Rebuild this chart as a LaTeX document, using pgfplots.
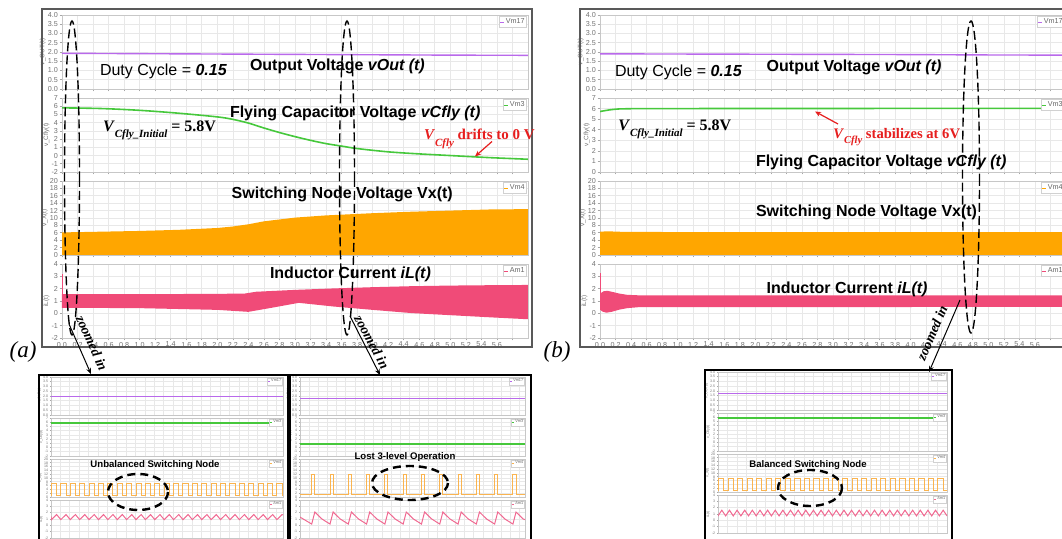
\documentclass[border=0pt]{standalone}
\usepackage{pgfplots}
\pgfplotsset{compat=1.18}
\usepackage{pgfplotstable}
\usepackage{fontspec}
\setmainfont{Liberation Sans}
\newfontfamily\tnr{Liberation Serif}
\usetikzlibrary{arrows.meta}

\definecolor{cvout}{RGB}{185,105,235}
\definecolor{ccfly}{RGB}{70,200,60}
\definecolor{cvx}{RGB}{255,166,0}
\definecolor{cvxl}{RGB}{250,180,80}
\definecolor{cil}{RGB}{240,75,120}
\definecolor{cill}{RGB}{240,105,145}
\definecolor{cred}{RGB}{230,30,30}

\pgfplotstableread{
x y
0 1
0.05 7
0.6 1
1.05 7
1.6 1
2.05 7
2.6 1
3.05 7
3.6 1
4.05 7
4.6 1
5.05 7
5.6 1
6.05 7
6.6 1
7.05 7
7.6 1
8.05 7
8.6 1
9.05 7
9.6 1
10.05 7
10.6 1
11.05 7
11.6 1
12.05 7
12.6 1
13.05 7
13.6 1
14.05 7
14.6 1
15.05 7
15.6 1
16.05 7
16.6 1
17.05 7
17.6 1
18.05 7
18.6 1
19.05 7
19.6 1
20.05 7
20.6 1
21.05 7
21.6 1
22.05 7
22.6 1
23.05 7
23.6 1
24.05 7
24.6 1
25 1
}\pulseA

\pgfplotstableread{
x y
0 1.4
0.05 0.9
0.6 1.7
1.05 0.9
1.6 1.7
2.05 0.9
2.6 1.7
3.05 0.9
3.6 1.7
4.05 0.9
4.6 1.7
5.05 0.9
5.6 1.7
6.05 0.9
6.6 1.7
7.05 0.9
7.6 1.7
8.05 0.9
8.6 1.7
9.05 0.9
9.6 1.7
10.05 0.9
10.6 1.7
11.05 0.9
11.6 1.7
12.05 0.9
12.6 1.7
13.05 0.9
13.6 1.7
14.05 0.9
14.6 1.7
15.05 0.9
15.6 1.7
16.05 0.9
16.6 1.7
17.05 0.9
17.6 1.7
18.05 0.9
18.6 1.7
19.05 0.9
19.6 1.7
20.05 0.9
20.6 1.7
21.05 0.9
21.6 1.7
22.05 0.9
22.6 1.7
23.05 0.9
23.6 1.7
24.05 0.9
24.6 1.7
25 1.5
}\triA

\pgfplotstableread{
x y
0 1.5
0.64 12
0.81 1.5
1.64 12
1.81 1.5
2.64 12
2.81 1.5
3.64 12
3.81 1.5
4.64 12
4.81 1.5
5.64 12
5.81 1.5
6.64 12
6.81 1.5
7.64 12
7.81 1.5
8.64 12
8.81 1.5
9.64 12
9.81 1.5
10.64 12
10.81 1.5
11.64 12
11.81 1.5
12.3 1.5
}\pulseB

\pgfplotstableread{
x y
0 1.3
0.64 0.2
0.81 2.1
1.2 1.0
1.64 0.2
1.81 2.1
2.2 1.0
2.64 0.2
2.81 2.1
3.2 1.0
3.64 0.2
3.81 2.1
4.2 1.0
4.64 0.2
4.81 2.1
5.2 1.0
5.64 0.2
5.81 2.1
6.2 1.0
6.64 0.2
6.81 2.1
7.2 1.0
7.64 0.2
7.81 2.1
8.2 1.0
8.64 0.2
8.81 2.1
9.2 1.0
9.64 0.2
9.81 2.1
10.2 1.0
10.64 0.2
10.81 2.1
11.2 1.0
11.64 0.2
11.81 2.1
12.2 1.0
12.3 0.9
}\sawB

\pgfplotstableread{
x y
0 0.7
0.4 1.6
0.8 0.7
1.2 1.6
1.6 0.7
2.0 1.6
2.4 0.7
2.8 1.6
3.2 0.7
3.6 1.6
4.0 0.7
4.4 1.6
4.8 0.7
5.2 1.6
5.6 0.7
6.0 1.6
6.4 0.7
6.8 1.6
7.2 0.7
7.6 1.6
8.0 0.7
8.4 1.6
8.8 0.7
9.2 1.6
9.6 0.7
10.0 1.6
10.4 0.7
10.8 1.6
11.2 0.7
11.6 1.6
12.0 0.7
12.4 1.6
12.8 0.7
13.2 1.6
13.6 0.7
14.0 1.6
14.4 0.7
14.8 1.6
15.2 0.7
15.6 1.6
16.0 0.7
16.4 1.6
16.8 0.7
17.2 1.6
17.6 0.7
18.0 1.6
18.4 0.7
18.8 1.6
19.2 0.7
19.6 1.6
20.0 0.7
20.4 1.6
20.8 0.7
21.2 1.6
21.6 0.7
22.0 1.6
22.4 0.7
22.8 1.6
23.2 0.7
23.6 1.6
24.0 0.7
}\triC

\pgfplotsset{
  base/.style={
    scale only axis, clip=true,
    axis line style={draw=black!22, line width=0.4pt},
    grid=major,
    major grid style={draw=black!9, line width=0.3pt},
    tick style={draw=black!35, line width=0.3pt},
    tick align=outside, tick pos=left,
    major tick length=1.2pt,
    /pgf/number format/assume math mode=true,
    ticklabel style={font=\fontsize{3.6}{4}\selectfont, text=black!55, inner sep=0.6pt},
    ylabel style={font=\fontsize{3.2}{3.5}\selectfont, text=black!55, inner sep=0.3pt},
    legend style={at={(0.996,0.975)}, anchor=north east, font=\fontsize{3.6}{3.6}\selectfont, text=black!60, draw=black!18, fill=white, inner sep=0.3pt, outer sep=0pt, nodes={inner sep=0.4pt}, column sep=0pt},
    legend image code/.code={\draw[#1, line width=0.7pt] (0pt,0pt) -- (2pt,0pt);},
  },
  mainx/.style={base, width=233pt, height=37pt, xmin=0, xmax=6,
    xtick={0,0.2,0.4,0.6,0.8,1.0,1.2,1.4,1.6,1.8,2.0,2.2,2.4,2.6,2.8,3.0,3.2,3.4,3.6,3.8,4.0,4.2,4.4,4.6,4.8,5.0,5.2,5.4,5.6,5.8},
    xticklabels={}},
  botx/.style={xticklabels={0.0,0.2,0.4,0.6,0.8,1.0,1.2,1.4,1.6,1.8,2.0,2.2,2.4,2.6,2.8,3.0,3.2,3.4,3.6,3.8,4.0,4.2,4.4,4.6,4.8,5.0,5.2,5.4,5.6,{}}},
  svout/.style={ymin=0, ymax=4, ytick={0,0.5,1,1.5,2,2.5,3,3.5,4},
    yticklabel style={/pgf/number format/.cd, fixed, fixed zerofill, precision=1}, ylabel={v\_OUT(t)}},
  svx/.style={ymin=0, ymax=20, ytick={0,2,4,6,8,10,12,14,16,18,20}, ylabel={v\_X(t)}},
  sil/.style={ymin=-2, ymax=4, ytick={-2,-1,0,1,2,3,4}, ylabel={iL(t)}},
  ins/.style={base, height=19pt, xmin=0, xtick distance=1, xticklabels={},
    ticklabel style={font=\fontsize{1.8}{2}\selectfont},
    ylabel style={font=\fontsize{1.8}{2}\selectfont},
    major tick length=0.6pt,
    legend style={font=\fontsize{1.9}{1.9}\selectfont, inner sep=0.2pt, nodes={inner sep=0.25pt}},
    legend image code/.code={\draw[#1, line width=0.5pt] (0pt,0pt) -- (1.2pt,0pt);}},
}

\begin{document}
\begin{tikzpicture}
\useasboundingbox (0pt,0pt) rectangle (531pt,-269.5pt);
\clip (0pt,0pt) rectangle (531pt,-269.5pt);

% ================= Panel (a) =================
\begin{axis}[mainx, svout, at={(31pt,-7.5pt)}, anchor=north west]
\addplot[cvout, line width=0.7pt] coordinates {(0,1.93)(1,1.91)(2,1.89)(3,1.87)(4,1.85)(5,1.83)(6,1.82)};
\addlegendentry{Vm17}
\end{axis}

\begin{axis}[mainx, at={(31pt,-49pt)}, anchor=north west, ymin=-2, ymax=7, ytick={-2,-1,0,1,2,3,4,5,6,7}, ylabel={v\_Cfly(t)}]
\addplot[ccfly, line width=0.8pt, smooth] coordinates {(0,5.8)(0.5,5.72)(1.0,5.5)(1.5,5.15)(2.0,4.7)(2.2,4.4)(2.4,3.95)(2.6,3.35)(2.8,2.8)(3.0,2.3)(3.2,1.85)(3.4,1.45)(3.6,1.15)(3.8,0.85)(4.2,0.45)(4.6,0.2)(5.0,0.0)(5.5,-0.25)(6.0,-0.45)};
\addlegendentry{Vm3}
\end{axis}

\begin{axis}[mainx, svx, at={(31pt,-90.5pt)}, anchor=north west]
\addlegendimage{cvx}
\addlegendentry{Vm4}
\addplot[fill=cvx, draw=none, forget plot] coordinates {(0,6.1)(0.5,6.3)(1.0,6.5)(1.5,6.8)(2.0,7.3)(2.2,7.7)(2.4,8.3)(2.6,9.1)(2.8,9.6)(3.0,10.1)(3.4,10.7)(4.0,11.3)(4.5,11.7)(5.0,12.0)(5.5,12.3)(6.0,12.4)} \closedcycle;
\end{axis}

\begin{axis}[mainx, botx, sil, at={(31pt,-132pt)}, anchor=north west]
\addlegendimage{cil}
\addlegendentry{Am1}
\addplot[fill=cil, draw=none, forget plot] coordinates {(0,1.55)(1.0,1.55)(2.0,1.58)(2.35,1.6)(2.5,1.75)(3.0,1.9)(3.5,2.02)(4.0,2.12)(4.5,2.2)(5.0,2.25)(5.5,2.28)(6.0,2.3)(6.0,-0.48)(5.5,-0.32)(5.0,-0.15)(4.5,0.02)(4.0,0.28)(3.5,0.55)(3.05,0.85)(2.7,0.45)(2.4,0.12)(2.0,0.28)(1.0,0.42)(0,0.45)} -- cycle;
\addplot[cil, line width=0.7pt, forget plot] coordinates {(0.01,0.5)(0.01,3.2)};
\node[anchor=north east, font=\fontsize{3.6}{4}\selectfont, text=black!55, inner sep=0.6pt] at (rel axis cs:1.003,0) [yshift=-1.2pt] {× 1e-3};
\end{axis}

% ================= Panel (b) =================
\begin{axis}[mainx, svout, at={(300pt,-7.5pt)}, anchor=north west]
\addplot[cvout, line width=0.7pt] coordinates {(0,1.9)(1,1.89)(2,1.88)(3,1.87)(4,1.86)(5,1.84)(6,1.83)};
\addlegendentry{Vm17}
\end{axis}

\begin{axis}[mainx, at={(300pt,-49pt)}, anchor=north west, ymin=0, ymax=7, ytick={0,1,2,3,4,5,6,7}, ylabel={v\_Cfly(t)}]
\addplot[ccfly, line width=0.8pt, smooth] coordinates {(0,5.72)(0.1,5.85)(0.2,5.94)(0.35,5.98)(1,6.0)(6,6.02)};
\addlegendentry{Vm3}
\end{axis}

\begin{axis}[mainx, svx, at={(300pt,-90.5pt)}, anchor=north west]
\addlegendimage{cvx}
\addlegendentry{Vm4}
\addplot[fill=cvx, draw=none, forget plot] coordinates {(0,6.3)(0.1,6.4)(0.3,6.25)(1.0,6.2)(6,6.15)} \closedcycle;
\end{axis}

\begin{axis}[mainx, botx, sil, at={(300pt,-132pt)}, anchor=north west]
\addlegendimage{cil}
\addlegendentry{Am1}
\addplot[fill=cil, draw=none, forget plot] coordinates {(0,1.6)(0.05,1.8)(0.1,1.82)(0.15,1.75)(0.25,1.6)(0.35,1.5)(0.5,1.46)(6,1.45)(6,0.52)(0.5,0.5)(0.35,0.42)(0.25,0.3)(0.15,0.12)(0.08,0.05)(0.03,0.15)(0,0.3)} -- cycle;
\addplot[cil, line width=0.7pt, forget plot] coordinates {(0.005,0.4)(0.005,3.3)};
\node[anchor=north east, font=\fontsize{3.6}{4}\selectfont, text=black!55, inner sep=0.6pt] at (rel axis cs:1.003,0) [yshift=-1.2pt] {× 1e-3};
\end{axis}

% ================= Inset 1 =================
\begin{axis}[ins, width=116pt, xmax=24.7, svout, at={(25.5pt,-188.5pt)}, anchor=north west]
\addplot[cvout, line width=0.5pt] coordinates {(0,1.9)(24.7,1.9)};
\addlegendentry{Vm17}
\end{axis}
\begin{axis}[ins, width=116pt, xmax=24.7, ymin=-2, ymax=7, ytick={-2,-1,0,1,2,3,4,5,6,7}, ylabel={v\_Cfly(t)}, at={(25.5pt,-209pt)}, anchor=north west]
\addplot[ccfly, line width=0.9pt] coordinates {(0,5.8)(24.7,5.8)};
\addlegendentry{Vm3}
\end{axis}
\begin{axis}[ins, width=116pt, xmax=24.7, svx, at={(25.5pt,-229.5pt)}, anchor=north west]
\addplot[cvxl, line width=0.5pt, const plot] table[x=x, y=y] {\pulseA};
\addlegendentry{Vm4}
\end{axis}
\begin{axis}[ins, width=116pt, xmax=24.7, sil, at={(25.5pt,-250pt)}, anchor=north west]
\addplot[cill, line width=0.5pt] table[x=x, y=y] {\triA};
\addlegendentry{Am1}
\end{axis}

% ================= Inset 2 =================
\begin{axis}[ins, width=112.5pt, xmax=12.3, xtick distance=0.5, svout, at={(150pt,-188.5pt)}, anchor=north west]
\addplot[cvout, line width=0.5pt] coordinates {(0,1.75)(12.3,1.75)};
\addlegendentry{Vm17}
\end{axis}
\begin{axis}[ins, width=112.5pt, xmax=12.3, xtick distance=0.5, ymin=-2, ymax=7, ytick={-2,-1,0,1,2,3,4,5,6,7}, ylabel={v\_Cfly(t)}, at={(150pt,-209pt)}, anchor=north west]
\addplot[ccfly, line width=0.9pt] coordinates {(0,0.8)(12.3,0.8)};
\addlegendentry{Vm3}
\end{axis}
\begin{axis}[ins, width=112.5pt, xmax=12.3, xtick distance=0.5, svx, at={(150pt,-229.5pt)}, anchor=north west]
\addplot[cvxl, line width=0.5pt, const plot] table[x=x, y=y] {\pulseB};
\addlegendentry{Vm4}
\end{axis}
\begin{axis}[ins, width=112.5pt, xmax=12.3, xtick distance=0.5, sil, at={(150pt,-250pt)}, anchor=north west]
\addplot[cill, line width=0.5pt] table[x=x, y=y] {\sawB};
\addlegendentry{Am1}
\end{axis}

% ================= Inset 3 =================
\begin{axis}[ins, width=114.5pt, xmax=24, svout, at={(359pt,-186pt)}, anchor=north west]
\addplot[cvout, line width=0.5pt] coordinates {(0,1.7)(24,1.7)};
\addlegendentry{Vm17}
\end{axis}
\begin{axis}[ins, width=114.5pt, xmax=24, ymin=-2, ymax=7, ytick={-2,-1,0,1,2,3,4,5,6,7}, ylabel={v\_Cfly(t)}, at={(359pt,-206.5pt)}, anchor=north west]
\addplot[ccfly, line width=0.9pt] coordinates {(0,5.9)(24,5.9)};
\addlegendentry{Vm3}
\end{axis}
\begin{axis}[ins, width=114.5pt, xmax=24, svx, at={(359pt,-227pt)}, anchor=north west]
\addplot[cvxl, line width=0.5pt, const plot] table[x=x, y=y] {\pulseA};
\addlegendentry{Vm4}
\end{axis}
\begin{axis}[ins, width=114.5pt, xmax=24, sil, at={(359pt,-247.5pt)}, anchor=north west]
\addplot[cill, line width=0.5pt] table[x=x, y=y] {\triC};
\addlegendentry{Am1}
\end{axis}

% ================= Annotations (pixel coordinates) =================
\begin{scope}[x=0.5pt, y=-0.5pt, every node/.style={inner sep=0pt, outer sep=0pt}]
  \draw[black!65, line width=1pt] (42,9.5) rectangle (532,347.5);
  \draw[black!65, line width=1pt] (580,9.5) rectangle (1100,347.5);

  % panel (a) texts
  \node[anchor=base west, font=\fontsize{8}{9}\selectfont] at (100,76) {Duty Cycle = \textbf{\textit{0.15}}};
  \node[anchor=base west, font=\fontsize{8}{9}\selectfont\bfseries] at (250,70.5) {Output Voltage \textit{vOut (t)}};
  \node[anchor=base west, font=\fontsize{8}{9}\selectfont\bfseries] at (230,118) {Flying Capacitor Voltage \textit{vCfly (t)}};
  \node[anchor=base west, font=\tnr\fontsize{8}{9}\selectfont\bfseries] at (103,131.5) {\textit{V}\raisebox{-3pt}{\fontsize{5.5}{6}\selectfont\textit{Cfly\_Initial}} = 5.8V};
  \node[anchor=base west, text=cred, font=\tnr\fontsize{7.5}{9}\selectfont\bfseries] at (424,140) {\textit{V}\raisebox{-3.2pt}{\fontsize{5.5}{6}\selectfont\textit{Cfly}} drifts to 0 V};
  \draw[cred, line width=0.6pt, -{Stealth[length=3pt,width=2.5pt]}] (492,141.5) -- (475,156.5);
  \node[anchor=base west, font=\fontsize{8}{9}\selectfont\bfseries] at (231.7,198.3) {Switching Node Voltage Vx(t)};
  \node[anchor=base west, font=\fontsize{8}{9}\selectfont\bfseries] at (270,278.3) {Inductor Current \textit{iL(t)}};

  % panel (b) texts
  \node[anchor=base west, font=\fontsize{8}{9}\selectfont] at (615,76.7) {Duty Cycle = \textbf{\textit{0.15}}};
  \node[anchor=base west, font=\fontsize{8}{9}\selectfont\bfseries] at (766.7,71.7) {Output Voltage \textit{vOut (t)}};
  \node[anchor=base west, font=\tnr\fontsize{8}{9}\selectfont\bfseries] at (618.3,131) {\textit{V}\raisebox{-3pt}{\fontsize{5.5}{6}\selectfont\textit{Cfly\_Initial}} = 5.8V};
  \draw[cred, line width=0.6pt, -{Stealth[length=3pt,width=2.5pt]}] (838,124) -- (815,111.5);
  \node[anchor=base west, text=cred, font=\tnr\fontsize{7.3}{9}\selectfont\bfseries] at (833.3,138.3) {\textit{V}\raisebox{-2.6pt}{\fontsize{5.3}{6}\selectfont\textit{Cfly}} stabilizes at 6V};
  \node[anchor=base west, font=\fontsize{8}{9}\selectfont\bfseries] at (756,166.7) {Flying Capacitor Voltage \textit{vCfly (t)}};
  \node[anchor=base west, font=\fontsize{8}{9}\selectfont\bfseries] at (756,216.7) {Switching Node Voltage Vx(t)};
  \node[anchor=base west, font=\fontsize{8}{9}\selectfont\bfseries] at (766.7,293.3) {Inductor Current \textit{iL(t)}};

  % dashed ellipses
  \draw[line width=0.7pt, dash pattern=on 4.5pt off 2pt] (72,178) ellipse [x radius=7.5, y radius=157];
  \draw[line width=0.7pt, dash pattern=on 4.5pt off 2pt] (347,178) ellipse [x radius=7.5, y radius=157];
  \draw[line width=0.7pt, dash pattern=on 4.5pt off 2pt] (971,177) ellipse [x radius=8.5, y radius=156];

  % zoomed in arrows
  \draw[line width=0.5pt, -{Stealth[length=3pt,width=2.5pt]}] (69,324) -- (91,374);
  \node[rotate=-66, font=\tnr\bfseries\itshape\fontsize{7}{8}\selectfont] at (92,343) {zoomed in};
  \draw[line width=0.5pt, -{Stealth[length=3pt,width=2.5pt]}] (350,316) -- (380,375);
  \node[rotate=-62, font=\tnr\bfseries\itshape\fontsize{7}{8}\selectfont] at (372,342) {zoomed in};
  \draw[line width=0.5pt, -{Stealth[length=3pt,width=2.5pt]}] (960,300) -- (929,372);
  \node[rotate=67, font=\tnr\bfseries\itshape\fontsize{7}{8}\selectfont] at (932,333) {zoomed in};

  % labels (a), (b)
  \node[font=\tnr\itshape\fontsize{11.5}{12}\selectfont] at (23,352) {(a)};
  \node[font=\tnr\itshape\fontsize{11.5}{12}\selectfont] at (557,352) {(b)};

  % inset frames
  \draw[line width=1.4pt] (39,375) rectangle (288,570);
  \draw[line width=1.4pt] (290,375) rectangle (531,570);
  \draw[line width=1.4pt] (705,370) rectangle (952,570);

  % inset titles and ellipses
  \node[font=\bfseries\fontsize{4.8}{5}\selectfont] at (155,465) {Unbalanced Switching Node};
  \node[font=\bfseries\fontsize{4.8}{5}\selectfont] at (405,457) {Lost 3-level Operation};
  \node[font=\bfseries\fontsize{4.8}{5}\selectfont] at (808,465) {Balanced Switching Node};
  \draw[line width=1.2pt, dash pattern=on 4pt off 2.5pt] (138,492) ellipse [x radius=30, y radius=18];
  \draw[line width=1.2pt, dash pattern=on 4pt off 2.5pt] (410,483) ellipse [x radius=38, y radius=17];
  \draw[line width=1.2pt, dash pattern=on 4pt off 2.5pt] (810,488) ellipse [x radius=32, y radius=18];
\end{scope}
\end{tikzpicture}
\end{document}
